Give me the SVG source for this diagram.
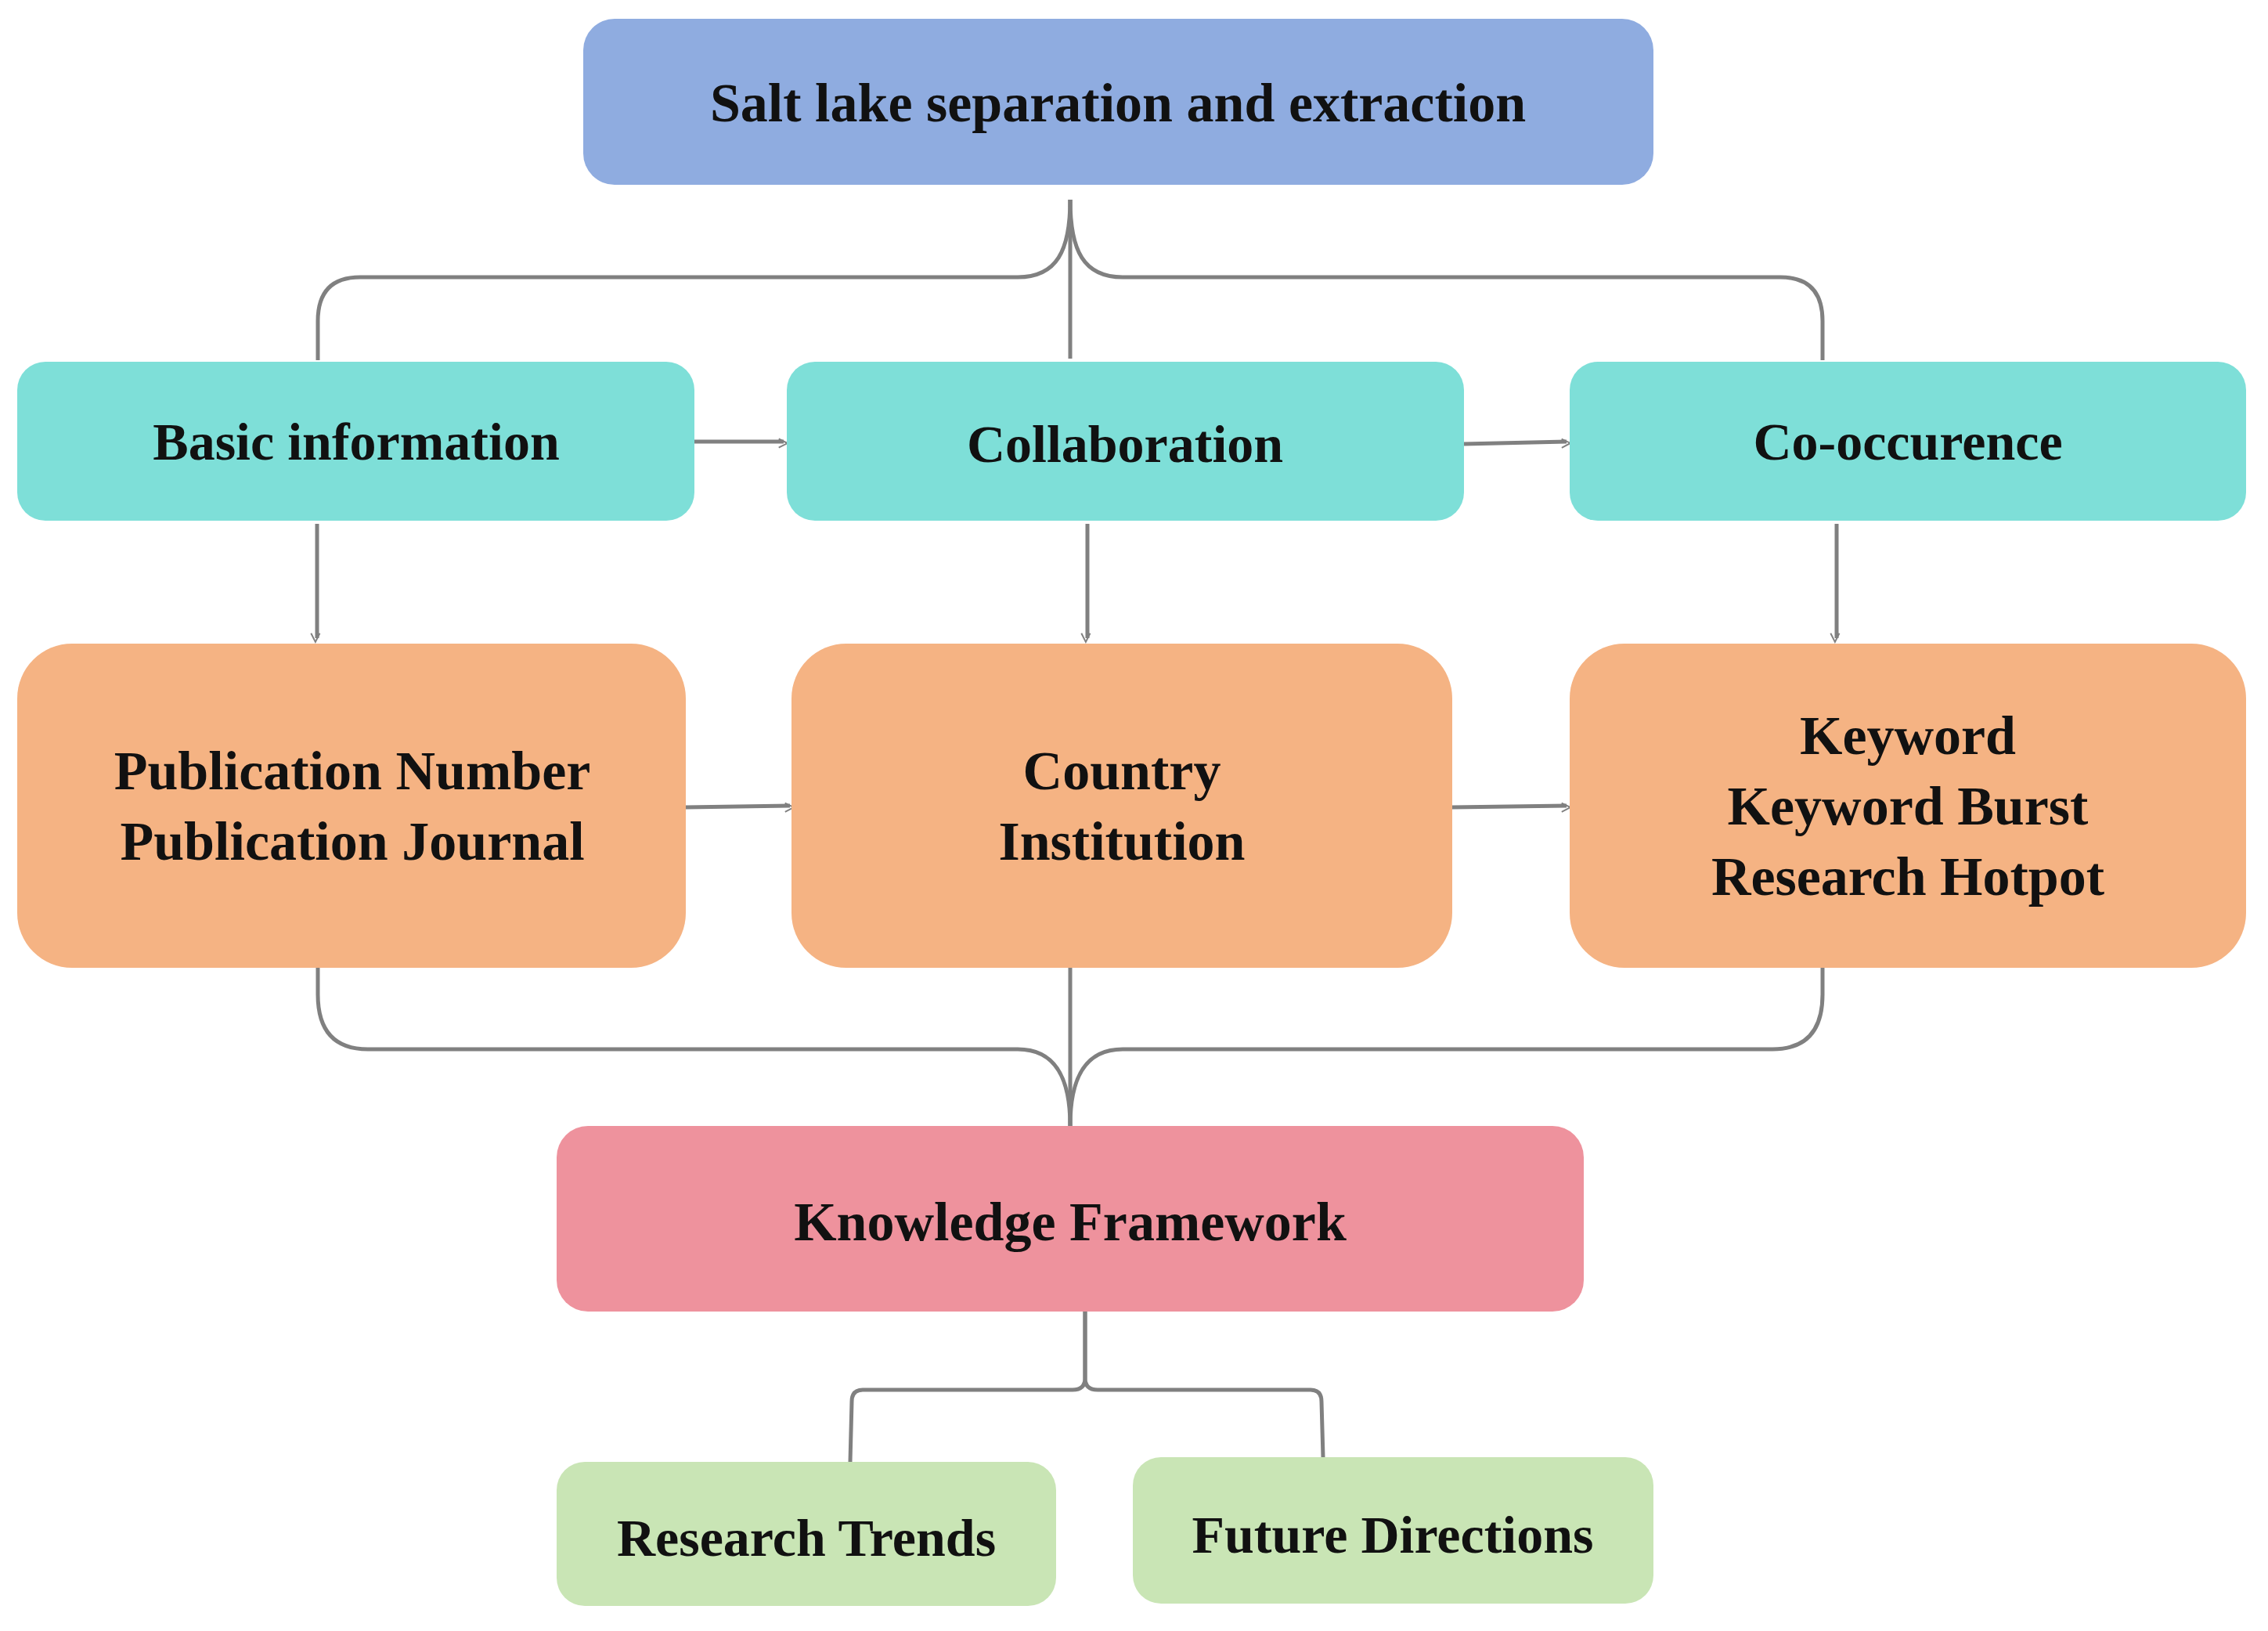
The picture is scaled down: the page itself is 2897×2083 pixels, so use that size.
<svg xmlns="http://www.w3.org/2000/svg" width="2897" height="2083" viewBox="0 0 2897 2083">
<style>
text{font-family:"Liberation Serif","DejaVu Serif",serif;font-weight:bold;fill:#111;text-anchor:middle;dominant-baseline:central}
.c{fill:none;stroke:#808080;stroke-width:5}
.a{fill:none;stroke:#808080;stroke-width:5;marker-end:url(#ah)}
</style>
<defs>
<marker id="ah" viewBox="0 0 20 20" refX="18" refY="10" markerWidth="7" markerHeight="7" markerUnits="userSpaceOnUse" orient="auto" style="overflow:visible">
<path d="M0,0 L20,10 L0,20" fill="none" stroke="#808080" stroke-width="3.5" transform="scale(1.6)" />
</marker>
</defs>
<rect width="2897" height="2083" fill="#fff"/>
<g id="connectors">
<path class="c" d="M1367,255 L1367,458"/>
<path class="c" d="M1367,255 C1367,320 1350,354 1300,354 L460,354 Q406,354 406,410 L406,460"/>
<path class="c" d="M1367,255 C1367,320 1384,354 1434,354 L2274,354 Q2328,354 2328,410 L2328,460"/>
<path class="a" d="M887,564 L1001,564"/>
<path class="a" d="M1870,567 L2001,564"/>
<path class="a" d="M405,669 L405,815"/>
<path class="a" d="M1389,669 L1389,815"/>
<path class="a" d="M2346,669 L2346,815"/>
<path class="a" d="M876,1031 L1009,1029"/>
<path class="a" d="M1855,1031 L2001,1029"/>
<path class="c" d="M1367,1236 L1367,1438"/>
<path class="c" d="M406,1236 L406,1270 Q406,1340 470,1340 L1300,1340 C1350,1340 1367,1380 1367,1438"/>
<path class="c" d="M2328,1236 L2328,1270 Q2328,1340 2264,1340 L1434,1340 C1384,1340 1367,1380 1367,1438"/>
<path class="c" d="M1386,1675 L1386,1760 Q1386,1775 1370,1775 L1102,1775 Q1088,1775 1088,1790 L1086,1867"/>
<path class="c" d="M1386,1675 L1386,1760 Q1386,1775 1402,1775 L1674,1775 Q1688,1775 1688,1790 L1690,1861"/>
</g>
<g id="top"><rect x="745" y="24" width="1367" height="212" rx="40" fill="#8FACE0"/><text x="1428" y="131" font-size="70">Salt lake separation and extraction</text></g>
<g id="basic"><rect x="22" y="462" width="865" height="203" rx="36" fill="#7EDFD8"/><text x="455" y="564" font-size="68">Basic information</text></g>
<g id="collab"><rect x="1005" y="462" width="865" height="203" rx="36" fill="#7EDFD8"/><text x="1437" y="567" font-size="68">Collaboration</text></g>
<g id="cooc"><rect x="2005" y="462" width="864" height="203" rx="36" fill="#7EDFD8"/><text x="2437" y="564" font-size="68">Co-occurence</text></g>
<g id="pub"><rect x="22" y="822" width="854" height="414" rx="70" fill="#F5B383"/><text x="450" y="984" font-size="70">Publication Number</text><text x="450" y="1074" font-size="70">Publication Journal</text></g>
<g id="country"><rect x="1011" y="822" width="844" height="414" rx="70" fill="#F5B383"/><text x="1433" y="984" font-size="70">Country</text><text x="1433" y="1074" font-size="70">Institution</text></g>
<g id="keyword"><rect x="2005" y="822" width="864" height="414" rx="70" fill="#F5B383"/><text x="2437" y="939" font-size="70">Keyword</text><text x="2437" y="1029" font-size="70">Keyword Burst</text><text x="2437" y="1119" font-size="70">Research Hotpot</text></g>
<g id="knowledge"><rect x="711" y="1438" width="1312" height="237" rx="40" fill="#EE929D"/><text x="1367" y="1560" font-size="70">Knowledge Framework</text></g>
<g id="trends"><rect x="711" y="1867" width="638" height="184" rx="36" fill="#C9E5B5"/><text x="1030" y="1964" font-size="68">Research Trends</text></g>
<g id="future"><rect x="1447" y="1861" width="665" height="187" rx="36" fill="#C9E5B5"/><text x="1779" y="1960" font-size="68">Future Directions</text></g>
</svg>
